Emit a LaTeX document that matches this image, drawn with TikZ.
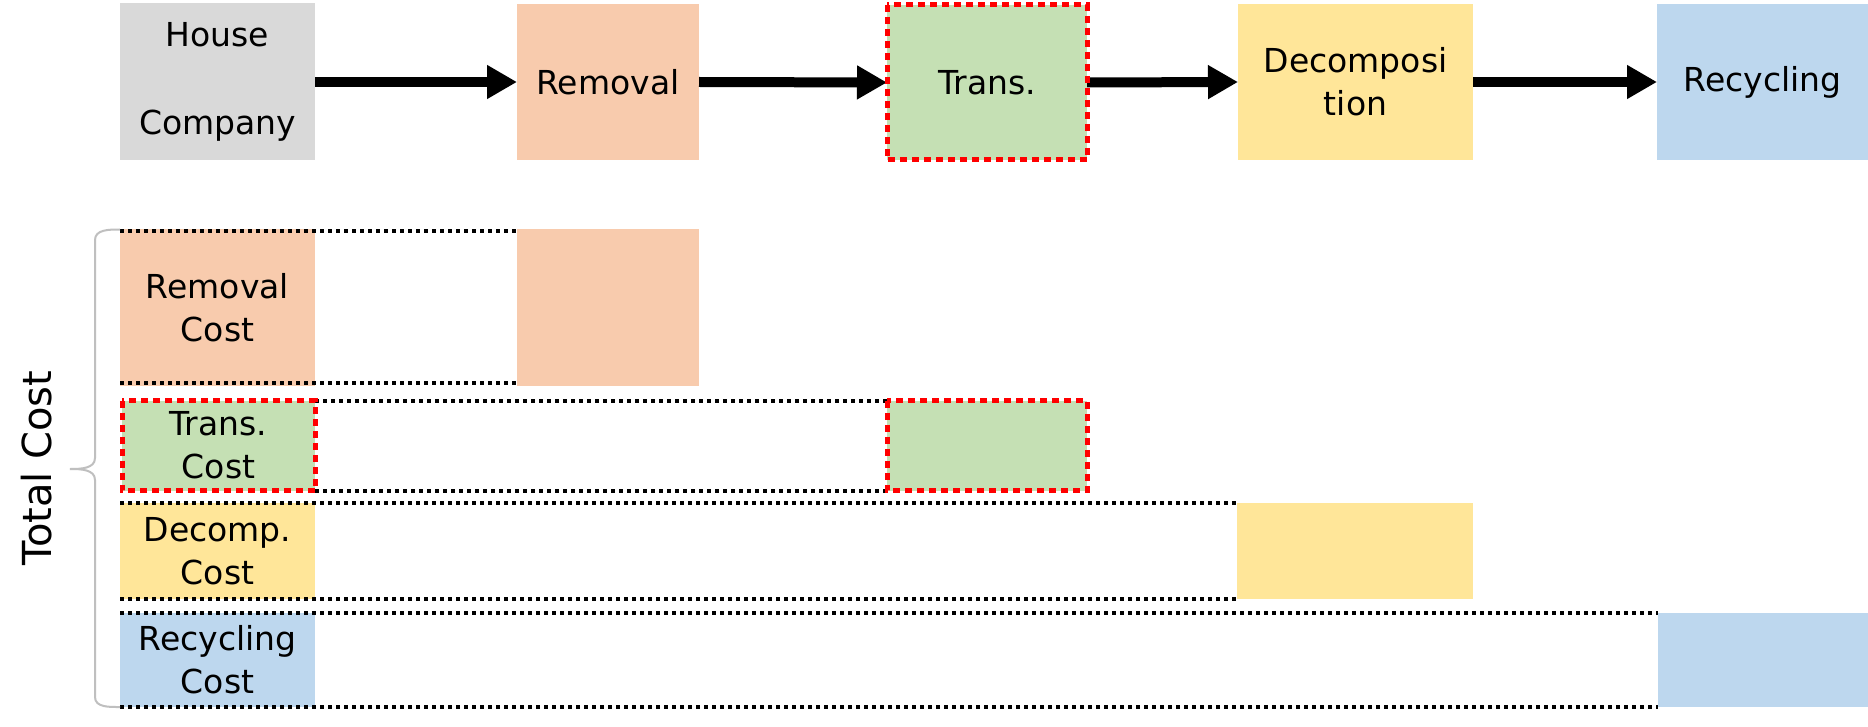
\documentclass[tikz,border=0pt]{standalone}
\usepackage{fontspec}
\setmainfont{DejaVu Sans}
\usetikzlibrary{arrows.meta}
\definecolor{cgray}{HTML}{D9D9D9}
\definecolor{corange}{HTML}{F8CBAD}
\definecolor{cgreen}{HTML}{C5E0B4}
\definecolor{cyellow}{HTML}{FFE699}
\definecolor{cblue}{HTML}{BDD7EE}
\definecolor{cbrace}{HTML}{BFBFBF}
\begin{document}
\begin{tikzpicture}[x=1pt,y=-1pt,
  box/.style={rectangle, inner sep=0pt, outer sep=0pt, align=center, text=black,
    font=\fontsize{33pt}{43pt}\selectfont},
  redborder/.style={draw=red, line width=5pt, dash pattern=on 7pt off 5pt},
  flow/.style={line width=10pt, -{Triangle[length=30pt,width=32pt]}},
  dotline/.style={line width=4pt, dash pattern=on 4pt off 4pt},
  bracestyle/.style={draw=cbrace, line width=2pt},
]
\fill[white] (0,0) rectangle (1868,727);
\useasboundingbox (0,0) rectangle (1868,727);

% top flow
\node[box, fill=cgray, minimum width=195pt, minimum height=157pt,
      font=\fontsize{33pt}{88pt}\selectfont] (house) at (217.5,82) {House\\Company};
\node[box, fill=corange, minimum width=182pt, minimum height=156pt] (removal) at (608,82) {Removal};
\node[box, fill=cgreen, minimum width=200pt, minimum height=155pt] (trans) at (987,82.5) {Trans.};
\node[box, fill=cyellow, minimum width=235pt, minimum height=156pt] (decomp) at (1355.5,82) {Decomposi\\tion};
\node[box, fill=cblue, minimum width=211pt, minimum height=156pt] (recyc) at (1762.5,82) {Recycling};

\draw[flow] (house.east) -- (removal.west);
\draw[flow] (removal.east) -- (trans.west);
\draw[flow] (trans.east) -- (decomp.west);
\draw[flow] (decomp.east) -- (recyc.west);

% cost rows
\node[box, fill=corange, minimum width=195pt, minimum height=156pt] (remcost) at (217.5,307.5) {Removal\\Cost};
\node[box, fill=corange, minimum width=182pt, minimum height=156pt] (remright) at (608,307.5) {};

\node[box, fill=cgreen, minimum width=193pt, minimum height=90pt] (transcost) at (218.5,445.5) {Trans.\\Cost};
\node[box, fill=cgreen, minimum width=200pt, minimum height=90pt] (transright) at (987,445.5) {};

\node[box, fill=cyellow, minimum width=195pt, minimum height=96pt] (decompcost) at (217.5,551) {Decomp.\\Cost};
\node[box, fill=cyellow, minimum width=236pt, minimum height=96pt] (decompright) at (1355,551) {};

\node[box, fill=cblue, minimum width=195pt, minimum height=94pt] (recyccost) at (217.5,660) {Recycling\\Cost};
\node[box, fill=cblue, minimum width=210pt, minimum height=94pt] (recycright) at (1763,660) {};

% dotted row outlines
\draw[dotline] ([yshift=-1.5pt]remcost.north west) -- ([yshift=-1.5pt]remright.north west);
\draw[dotline] ([yshift=3pt]remcost.south west) -- ([yshift=3pt]remright.south west);
\draw[dotline] (transcost.north east) -- (transright.north west);
\draw[dotline] (transcost.south east) -- (transright.south west);
\draw[dotline] (decompcost.north west) -- (decompright.north west);
\draw[dotline] (decompcost.south west) -- (decompright.south west);
\draw[dotline] (recyccost.north west) -- (recycright.north west);
\draw[dotline] (recyccost.south west) -- (recycright.south west);

% red highlight borders
\draw[redborder] (trans.north west) rectangle (trans.south east);
\draw[redborder] (transcost.north west) rectangle (transcost.south east);
\draw[redborder] (transright.north west) rectangle (transright.south east);

% brace
\coordinate (btip) at (70,469);
\draw[bracestyle] (remcost.north west) to[out=180,in=90] (95,240) -- (95,458)
  to[out=-90,in=0] (btip) to[out=0,in=90] (95,480) -- (95,697)
  to[out=-90,in=180] (recyccost.south west);

\node[rotate=90, font=\fontsize{40pt}{48pt}\selectfont, text=black] (total) at (37,468) {Total Cost};
\end{tikzpicture}
\end{document}
